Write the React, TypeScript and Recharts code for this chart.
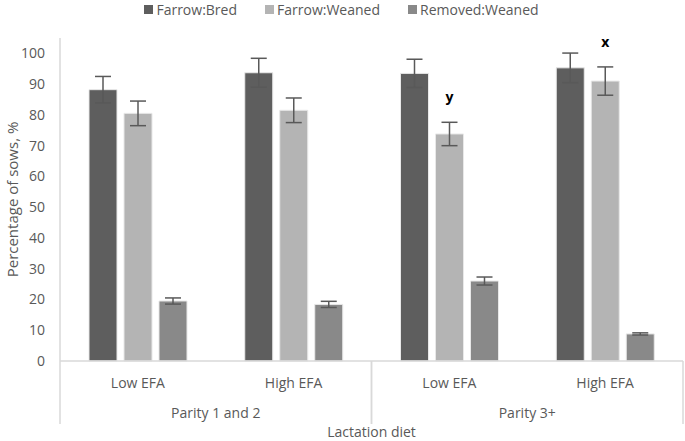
import React from 'react';
import { BarChart, Bar, XAxis, YAxis, ErrorBar, Legend, LabelList } from 'recharts';

const diets = ['Low EFA', 'High EFA', 'Low EFA', 'High EFA'];
const parities = ['Parity 1 and 2', 'Parity 1 and 2', 'Parity 3+', 'Parity 3+'];
const farrowBred = [88.2, 93.7, 93.5, 95.3];
const farrowBredErr = [4.3, 4.7, 4.6, 4.8];
const farrowWeaned = [80.5, 81.5, 73.8, 91.0];
const farrowWeanedErr = [4.0, 4.0, 3.8, 4.6];
const removedWeaned = [19.5, 18.4, 26.0, 8.8];
const removedWeanedErr = [1.0, 1.0, 1.3, 0.35];
const weanedLetters = ['', '', 'y', 'x'];
const yTicks = [0, 10, 20, 30, 40, 50, 60, 70, 80, 90, 100];

const seriesNames = ['Farrow:Bred', 'Farrow:Weaned', 'Removed:Weaned'];
const colors = ['#5e5e5e', '#b4b4b4', '#898989'];

const data = diets.map((d, i) => ({
  diet: d,
  parity: parities[i],
  bred: farrowBred[i],
  bredErr: farrowBredErr[i],
  weaned: farrowWeaned[i],
  weanedErr: farrowWeanedErr[i],
  removed: removedWeaned[i],
  removedErr: removedWeanedErr[i],
  letter: weanedLetters[i],
}));

const FONT = "'Open Sans', sans-serif";
const TEXT = '#595959';
const LINE = '#d9d9d9';
const FS = 14;

const LegendContent = () => (
  <div style={{ display: 'flex', justifyContent: 'center', height: 18, alignItems: 'center', fontFamily: FONT, fontSize: FS, color: TEXT }}>
    {seriesNames.map((n, i) => (
      <div key={n} style={{ display: 'flex', alignItems: 'center', marginRight: i < 2 ? 28 : 0 }}>
        <span style={{ width: 9, height: 9, background: colors[i], display: 'inline-block', marginRight: 3 }} />
        <span>{n}</span>
      </div>
    ))}
  </div>
);

const ParityTick = (props: any) => {
  const { x, y, payload } = props;
  const half = payload && payload.offset ? payload.offset : 155.75;
  return (
    <g>
      <line x1={x - half} x2={x - half} y1={y - 38} y2={y + 25} stroke={LINE} strokeWidth={1.5} />
      <line x1={x + half} x2={x + half} y1={y - 38} y2={y + 25} stroke={LINE} strokeWidth={1.5} />
      <text x={x} y={y + 14} dy="0.35em" textAnchor="middle" fill={TEXT} fontSize={FS} fontFamily={FONT}>
        {payload.value}
      </text>
    </g>
  );
};

const LetterLabel = (props: any) => {
  const { x, y, width, height, value, index } = props;
  if (!value) return null;
  const v = farrowWeaned[index];
  const pxPerUnit = height / v;
  const errPx = farrowWeanedErr[index] * pxPerUnit;
  return (
    <text x={x + width / 2} y={y - errPx - 25} dy="0.35em" textAnchor="middle" fill="#000" fontWeight="bold" fontSize={14} fontFamily={FONT}>
      {value}
    </text>
  );
};

export default function App() {
  return (
    <div style={{ position: 'absolute', left: 0, top: 0, background: '#fff', fontFamily: FONT }}>
      <BarChart width={685} height={441} data={data} margin={{ top: 20, right: 2, left: 0, bottom: 0 }} barSize={28} barGap={7}>
        <Legend verticalAlign="top" align="center" content={<LegendContent />} wrapperStyle={{ top: 0, height: 18 }} height={18} />
        <YAxis
          width={60}
          domain={[0, 105]}
          ticks={yTicks}
          interval={0}
          tickLine={false}
          tickMargin={9}
          axisLine={{ stroke: LINE, strokeWidth: 1.5 }}
          tick={{ fill: TEXT, fontSize: FS, fontFamily: FONT }}
          label={{ value: 'Percentage of sows, %', angle: -90, position: 'insideLeft', offset: 13, style: { textAnchor: 'middle', fill: TEXT, fontSize: 15, fontFamily: FONT } }}
        />
        <XAxis
          dataKey="diet"
          height={30}
          tickLine={false}
          tickMargin={11}
          axisLine={{ stroke: LINE, strokeWidth: 1.5 }}
          tick={{ fill: TEXT, fontSize: FS, fontFamily: FONT }}
          interval={0}
        />
        <XAxis
          xAxisId="parity"
          dataKey="parity"
          allowDuplicatedCategory={false}
          height={50}
          tickLine={false}
          axisLine={false}
          tick={<ParityTick />}
          interval={0}
          label={{ value: 'Lactation diet', position: 'insideBottom', offset: 4, fill: TEXT, fontSize: FS, fontFamily: FONT }}
        />
        <Bar dataKey="bred" name="Farrow:Bred" fill={colors[0]} stroke="#e8e8e8" strokeWidth={1} isAnimationActive={false}>
          <ErrorBar dataKey="bredErr" width={8} stroke="#595959" strokeWidth={1.5} />
        </Bar>
        <Bar dataKey="weaned" name="Farrow:Weaned" fill={colors[1]} stroke="#e8e8e8" strokeWidth={1} isAnimationActive={false}>
          <ErrorBar dataKey="weanedErr" width={8} stroke="#595959" strokeWidth={1.5} />
          <LabelList dataKey="letter" content={<LetterLabel />} />
        </Bar>
        <Bar dataKey="removed" name="Removed:Weaned" fill={colors[2]} stroke="#e8e8e8" strokeWidth={1} isAnimationActive={false}>
          <ErrorBar dataKey="removedErr" width={8} stroke="#595959" strokeWidth={1.5} />
        </Bar>
      </BarChart>
    </div>
  );
}
